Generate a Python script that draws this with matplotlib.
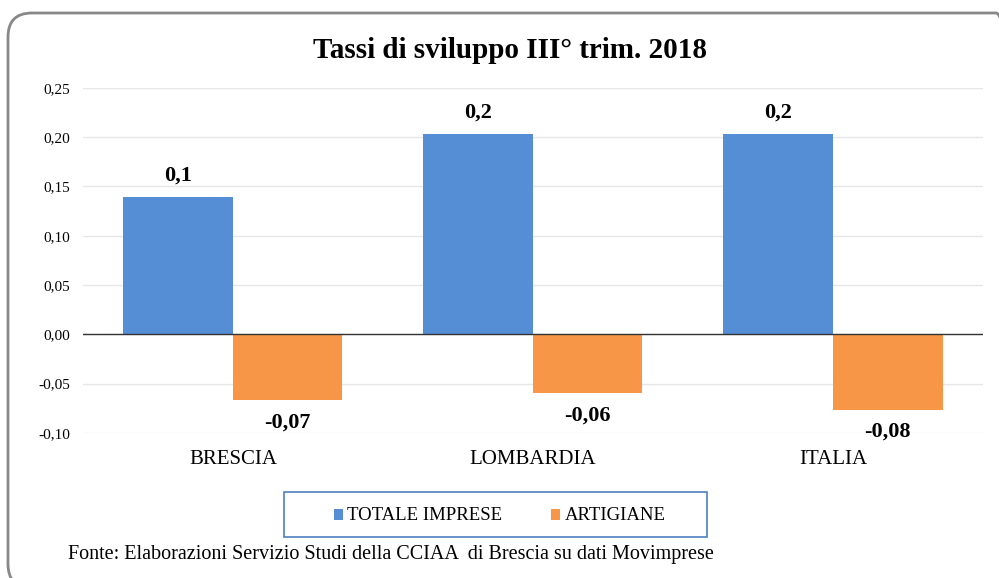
import matplotlib.pyplot as plt
import numpy as np
from matplotlib.patches import FancyBboxPatch, Rectangle
from matplotlib.transforms import IdentityTransform

categories = ["BRESCIA", "LOMBARDIA", "ITALIA"]
totale = [0.139, 0.203, 0.203]
artigiane = [-0.067, -0.060, -0.077]
totale_labels = ["0,1", "0,2", "0,2"]
artigiane_labels = ["-0,07", "-0,06", "-0,08"]
yticks = [-0.10, -0.05, 0.00, 0.05, 0.10, 0.15, 0.20, 0.25]

blue = "#558ed5"
orange = "#f79646"

plt.rcParams["font.family"] = ["Liberation Serif", "DejaVu Serif"]

fig = plt.figure(figsize=(9.99, 5.78), dpi=100)
ax = fig.add_axes([0.083, 0.251, 0.901, 0.597])

x = np.arange(len(categories))
w = 0.365
ax.bar(x - w / 2, totale, w, color=blue, zorder=3)
ax.bar(x + w / 2, artigiane, w, color=orange, zorder=3)

for i in range(len(categories)):
    ax.text(x[i] - w / 2, totale[i] + 0.012, totale_labels[i], ha="center", va="bottom",
            fontsize=16, fontweight="bold")
    ax.text(x[i] + w / 2, artigiane[i] - 0.012, artigiane_labels[i], ha="center", va="top",
            fontsize=16, fontweight="bold")

ax.set_xlim(-0.5, 2.5)
ax.set_ylim(-0.10, 0.25)
ax.set_yticks(yticks)
ax.set_yticklabels([f"{t:.2f}".replace(".", ",") for t in yticks], fontsize=11)
ax.set_xticks(x)
ax.set_xticklabels(categories, fontsize=15)
ax.tick_params(axis="both", length=0)
ax.tick_params(axis="x", pad=12)
ax.tick_params(axis="y", pad=9)
ax.grid(axis="y", color="#e6e6e6", linewidth=1, zorder=0)
ax.axhline(0, color="#333333", linewidth=1, zorder=4)
for s in ax.spines.values():
    s.set_visible(False)

fig.text(0.511, 0.912, "Tassi di sviluppo III° trim. 2018", ha="center", va="center",
         fontsize=21, fontweight="bold")

# legend box
fig.add_artist(Rectangle((284 / 999, 1 - 537 / 578), 423 / 999, 45 / 578,
                         transform=fig.transFigure, fill=False, edgecolor="#4f81bd", linewidth=1.2))
fig.add_artist(Rectangle((334 / 999, 1 - 520 / 578), 9 / 999, 11 / 578,
                         transform=fig.transFigure, color=blue, linewidth=0))
fig.text(347 / 999, 1 - 515 / 578, "TOTALE IMPRESE", ha="left", va="center", fontsize=13.5)
fig.add_artist(Rectangle((551 / 999, 1 - 520 / 578), 9 / 999, 11 / 578,
                         transform=fig.transFigure, color=orange, linewidth=0))
fig.text(565 / 999, 1 - 515 / 578, "ARTIGIANE", ha="left", va="center", fontsize=13.5)

fig.text(68 / 999, 1 - 555 / 578,
         "Fonte: Elaborazioni Servizio Studi della CCIAA  di Brescia su dati Movimprese",
         ha="left", va="center", fontsize=14.5)

# outer rounded frame in pixels, runs past the right and bottom edges
fig.add_artist(FancyBboxPatch((8, -10), 1012, 575,
                              boxstyle="round,pad=0,rounding_size=24",
                              transform=IdentityTransform(), fill=False,
                              edgecolor="#888888", linewidth=2))

fig.savefig("out.png", dpi=100)
